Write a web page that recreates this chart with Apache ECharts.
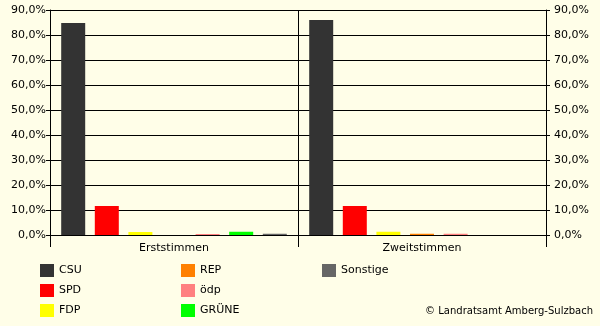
<!DOCTYPE html>
<html>
<head>
<meta charset="utf-8">
<script src="https://cdn.jsdelivr.net/npm/echarts@6/dist/echarts.min.js"></script>
<style>
html,body{margin:0;padding:0;background:#fffee8;}
#c{width:600px;height:326px;}
</style>
</head>
<body>
<div id="c"></div>
<script>
var categories = ['Erststimmen', 'Zweitstimmen'];
var parties = ['CSU', 'SPD', 'FDP', 'REP', 'ödp', 'GRÜNE', 'Sonstige'];
var CSU = [84.8, 86.0];
var SPD = [11.6, 11.6];
var FDP = [1.2, 1.3];
var REP = [null, 0.5];
var ODP = [0.4, 0.5];
var GRUENE = [1.3, null];
var SONSTIGE = [0.5, null];
var yTicks = [0, 10, 20, 30, 40, 50, 60, 70, 80, 90];
var copyright = '© Landratsamt Amberg-Sulzbach';

var values = [CSU, SPD, FDP, REP, ODP, GRUENE, SONSTIGE];
var colors = ['#333333', '#ff0000', '#ffff00', '#ff8000', '#ff8080', '#00ff00', '#666666'];
var FONT = 'DejaVu Sans';

var chart = echarts.init(document.getElementById('c'), null, {renderer: 'canvas'});

function yAxis(pos, split, margin) {
  return {
    type: 'value', position: pos, min: yTicks[0], max: yTicks[yTicks.length - 1], interval: 10,
    axisLine: {show: true, lineStyle: {color: '#000', width: 1}},
    axisTick: {show: true, length: 4, lineStyle: {color: '#000'}},
    axisLabel: {
      color: '#000', fontFamily: FONT, fontSize: 11, margin: margin,
      formatter: function (v) { return v.toFixed(1).replace('.', ',') + '%'; }
    },
    splitLine: {show: split, lineStyle: {color: '#000', width: 1}}
  };
}

var series = parties.map(function (p, i) {
  return {
    name: p, type: 'bar', data: values[i], barWidth: 24, barGap: '40%',
    yAxisIndex: 0,
    itemStyle: {color: colors[i]}, silent: true, animation: false
  };
});

function legend(names, left) {
  return {
    data: names, orient: 'vertical', left: left, top: 264, padding: 0,
    itemWidth: 14, itemHeight: 13, itemGap: 7, icon: 'rect',
    selectedMode: false,
    textStyle: {fontFamily: FONT, fontSize: 11, color: '#000'}
  };
}

chart.setOption({
  backgroundColor: '#fffee8',
  animation: false,
  grid: {left: 50, right: 54, top: 10, bottom: 91},
  xAxis: {
    type: 'category', data: categories,
    axisLine: {show: true, lineStyle: {color: '#000', width: 1}},
    axisTick: {show: true, length: 12, lineStyle: {color: '#000'}},
    axisLabel: {color: '#000', fontFamily: FONT, fontSize: 11, margin: 8},
    splitLine: {show: true, lineStyle: {color: '#000', width: 1}}
  },
  yAxis: [yAxis('left', true, 4), yAxis('right', false, 8)],
  legend: [
    legend(parties.slice(0, 3), 40),
    legend(parties.slice(3, 6), 181),
    legend(parties.slice(6), 322)
  ],
  graphic: [{
    type: 'text', right: 7, top: 306,
    style: {text: copyright, font: '10px "DejaVu Sans"', fill: '#000'}
  }],
  series: series
});
</script>
</body>
</html>
